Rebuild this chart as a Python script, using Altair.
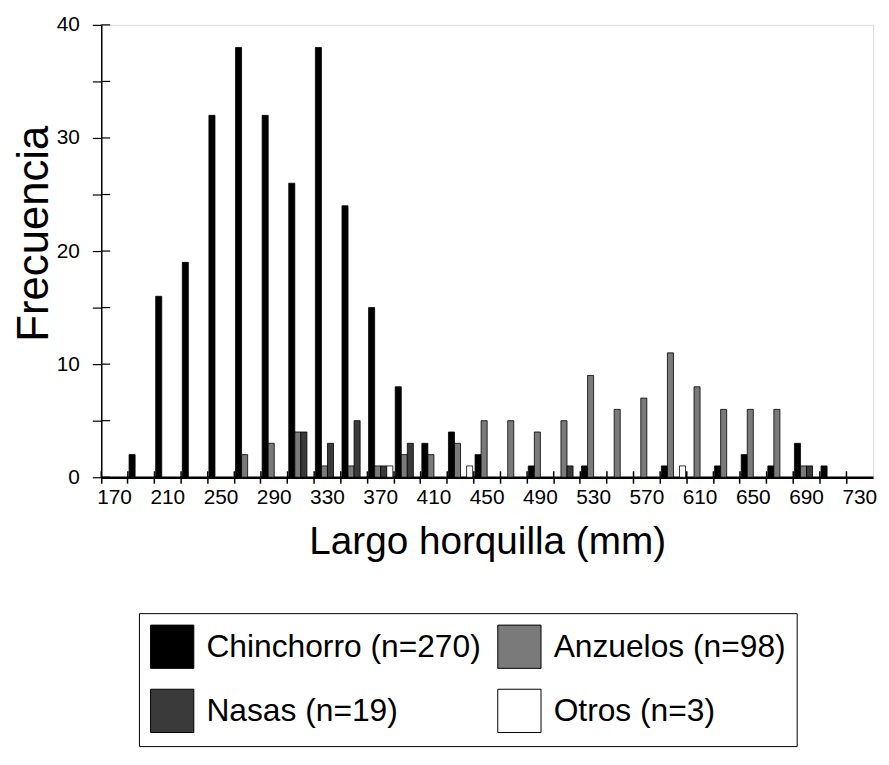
import altair as alt
import pandas as pd

clases = list(range(170, 731, 20))
series = ["Chinchorro (n=270)", "Anzuelos (n=98)", "Nasas (n=19)", "Otros (n=3)"]
orden_leyenda = ["Chinchorro (n=270)", "Nasas (n=19)", "Anzuelos (n=98)", "Otros (n=3)"]
chinchorro = [0, 2, 16, 19, 32, 38, 32, 26, 38, 24, 15, 8, 3, 4, 2, 0, 1, 0, 1, 0, 0, 1, 0, 1, 2, 1, 3, 1, 0]
anzuelos = [0, 0, 0, 0, 0, 2, 3, 4, 1, 1, 1, 2, 2, 3, 5, 5, 4, 5, 9, 6, 7, 11, 8, 6, 6, 6, 1, 0, 0]
nasas = [0, 0, 0, 0, 0, 0, 0, 4, 3, 5, 1, 3, 0, 0, 0, 0, 0, 1, 0, 0, 0, 0, 0, 0, 0, 0, 1, 0, 0]
otros = [0, 0, 0, 0, 0, 0, 0, 0, 0, 0, 1, 0, 0, 1, 0, 0, 0, 0, 0, 0, 0, 1, 0, 0, 0, 0, 0, 0, 0]
colores_leyenda = ["#000000", "#3a3a3a", "#7a7a7a", "#ffffff"]
ticks_y = list(range(0, 41, 5))

filas = []
for nombre, vals in zip(series, [chinchorro, anzuelos, nasas, otros]):
    for c, v in zip(clases, vals):
        filas.append({"clase": c, "serie": nombre, "frecuencia": v})
df = pd.DataFrame(filas)

W, H = 778, 456
FONT = "Liberation Sans"

x_enc = alt.X(
    "clase:O",
    scale=alt.Scale(domain=clases, paddingInner=0, paddingOuter=0),
    axis=alt.Axis(
        title="Largo horquilla (mm)",
        labelExpr="(datum.value - 170) % 40 == 0 ? datum.label : ''",
        labelAngle=0,
        bandPosition=0,
        tickSize=6,
        tickColor="black",
        tickWidth=1.5,
        domainColor="black",
        domainWidth=2.5,
        labelFontSize=21,
        labelColor="black",
        labelFont=FONT,
        labelPadding=3,
        titleFontSize=39,
        titleFont=FONT,
        titleFontWeight="normal",
        titleColor="black",
        titlePadding=16,
        grid=False,
    ),
)

y_enc = alt.Y(
    "frecuencia:Q",
    scale=alt.Scale(domain=[0, 40], nice=False),
    axis=alt.Axis(
        title="Frecuencia",
        values=ticks_y,
        labelExpr="datum.value % 10 == 0 ? datum.label : ''",
        tickSize=9,
        tickColor="black",
        tickWidth=1.2,
        domainColor="black",
        domainWidth=1.5,
        labelFontSize=21,
        labelColor="black",
        labelFont=FONT,
        labelPadding=13,
        titleFontSize=44,
        titleFont=FONT,
        titleFontWeight="normal",
        titleColor="black",
        titleAngle=270,
        titleX=-67,
        titleY=210,
        titleBaseline="middle",
        grid=False,
    ),
)

barras = (
    alt.Chart(df)
    .transform_filter(alt.datum.frecuencia > 0)
    .mark_bar(stroke="black", strokeWidth=0.8)
    .encode(
        x=x_enc,
        y=y_enc,
        xOffset=alt.XOffset(
            "serie:N",
            sort=series,
            scale=alt.Scale(domain=series, paddingInner=0, paddingOuter=0.2),
        ),
        fill=alt.Fill(
            "serie:N",
            sort=orden_leyenda,
            scale=alt.Scale(domain=orden_leyenda, range=colores_leyenda),
            legend=alt.Legend(
                title=None,
                orient="none",
                legendX=38,
                legendY=593,
                columns=2,
                gridAlign="all",
                columnPadding=14,
                rowPadding=16,
                padding=11,
                symbolType="square",
                symbolSize=1900,
                symbolStrokeColor="black",
                symbolStrokeWidth=1,
                labelFontSize=32,
                labelFont=FONT,
                labelColor="black",
                labelOffset=12,
                labelLimit=600,
                strokeColor="black",
            ),
        ),
    )
)

marcas_x = (
    alt.Chart(pd.DataFrame({"clase": clases}))
    .mark_rule(color="black", strokeWidth=1.5)
    .encode(
        x=alt.X("clase:O", bandPosition=0),
        y=alt.value(H - 6),
        y2=alt.value(H),
    )
)

marcas_y = (
    alt.Chart(pd.DataFrame({"frecuencia": ticks_y}))
    .mark_rule(color="black", strokeWidth=1.2)
    .encode(
        y=alt.Y("frecuencia:Q"),
        x=alt.value(0),
        x2=alt.value(9),
    )
)

chart = (
    alt.layer(barras, marcas_x, marcas_y)
    .properties(
        width=W,
        height=H,
        autosize=alt.AutoSizeParams(type="none"),
        padding={"left": 94, "top": 14, "right": 8, "bottom": 279},
    )
    .configure_view(stroke="black", strokeWidth=1.2)
    .configure(background="white")
)

chart.save("out.html", embed_options={"renderer": "svg", "actions": False})
